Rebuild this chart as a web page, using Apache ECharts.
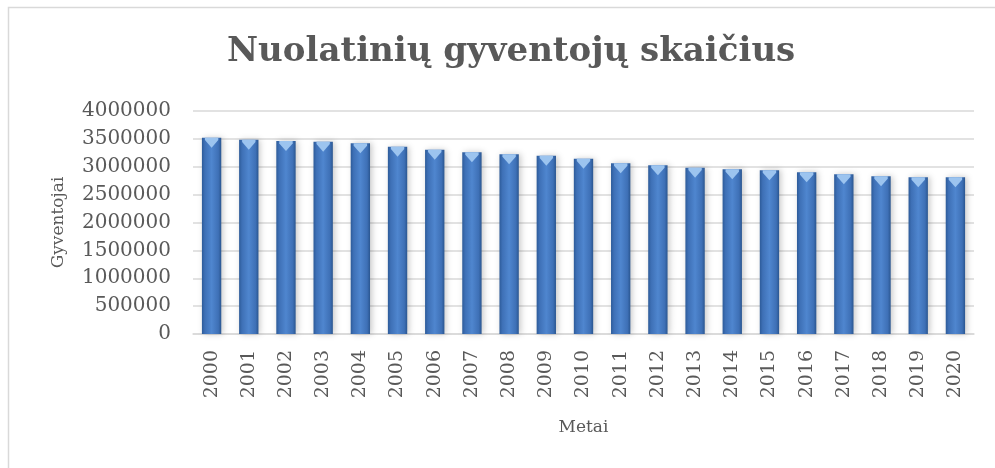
<!DOCTYPE html>
<html>
<head>
<meta charset="utf-8">
<script src="https://cdn.jsdelivr.net/npm/echarts@6/dist/echarts.min.js"></script>
<style>
  html, body { margin: 0; padding: 0; background: #fff; }
  #chart { width: 995px; height: 468px; }
</style>
</head>
<body>
<div id="chart"></div>
<script>
// duomenys nuskaityti nuo paveikslėlio
const years = ['2000', '2001', '2002', '2003', '2004', '2005', '2006', '2007', '2008', '2009', '2010',
  '2011', '2012', '2013', '2014', '2015', '2016', '2017', '2018', '2019', '2020']
const population = [3521000, 3485000, 3462000, 3449000, 3420000, 3360000, 3306000, 3259000, 3223000, 3198000, 3145000,
  3062000, 3026000, 2983000, 2954000, 2936000, 2900000, 2865000, 2829000, 2811000, 2810000]
const yTicks = [0, 500000, 1000000, 1500000, 2000000, 2500000, 3000000, 3500000, 4000000]

const serif = '"DejaVu Serif", "Liberation Serif", serif'
const chart = echarts.init(document.getElementById('chart'))

const option = {
  backgroundColor: '#fff',
  animation: false,
  graphic: [
    {
      type: 'rect',
      shape: { x: 8.5, y: 7.5, width: 1000, height: 500 },
      style: { fill: 'none', stroke: '#d9d9d9', lineWidth: 1.5 },
      silent: true
    }
  ],
  title: {
    text: 'Nuolatinių gyventojų skaičius',
    left: 222,
    top: 30,
    textStyle: {
      fontFamily: serif,
      fontWeight: 'bold',
      fontSize: 34,
      color: '#595959'
    }
  },
  grid: {
    left: 193,
    right: 21,
    top: 111,
    bottom: 134
  },
  xAxis: {
    type: 'category',
    data: years,
    name: 'Metai',
    nameLocation: 'middle',
    nameGap: 85,
    nameTextStyle: { fontFamily: serif, fontSize: 17, color: '#595959' },
    axisTick: { show: false },
    axisLine: { lineStyle: { color: '#d9d9d9', width: 1.5 } },
    axisLabel: {
      rotate: 90,
      interval: 0,
      margin: 16,
      fontFamily: serif,
      fontSize: 19,
      color: '#595959'
    }
  },
  yAxis: {
    type: 'value',
    min: yTicks[0],
    max: yTicks[yTicks.length - 1],
    interval: yTicks[1] - yTicks[0],
    name: 'Gyventojai',
    nameLocation: 'middle',
    nameGap: 126,
    nameTextStyle: { fontFamily: serif, fontSize: 17, color: '#595959' },
    axisLine: { show: false },
    axisTick: { show: false },
    axisLabel: {
      margin: 22,
      fontFamily: serif,
      fontSize: 20,
      color: '#595959',
      formatter: (v) => String(v)
    },
    splitLine: { lineStyle: { color: '#d9d9d9', width: 1.5 } }
  },
  series: [
    {
      name: 'Gyventojai',
      type: 'bar',
      data: population,
      barWidth: '52%',
      itemStyle: {
        color: new echarts.graphic.LinearGradient(0, 0, 1, 0, [
          { offset: 0, color: '#2d5b99' },
          { offset: 0.15, color: '#3e70b6' },
          { offset: 0.5, color: '#4f86cf' },
          { offset: 0.85, color: '#3e70b6' },
          { offset: 1, color: '#2a5690' }
        ]),
        shadowColor: 'rgba(0, 0, 0, 0.22)',
        shadowBlur: 6,
        shadowOffsetX: 2,
        shadowOffsetY: 0
      },
      z: 2
    },
    {
      name: 'virsus',
      type: 'pictorialBar',
      data: population,
      symbol: 'path://M0,0 L10,0 L10,1.2 L5,5 L0,1.2 Z',
      symbolSize: ['52%', 10],
      symbolPosition: 'end',
      itemStyle: { color: '#9cc4ef' },
      silent: true,
      z: 3
    }
  ]
}

chart.setOption(option)
</script>
</body>
</html>
